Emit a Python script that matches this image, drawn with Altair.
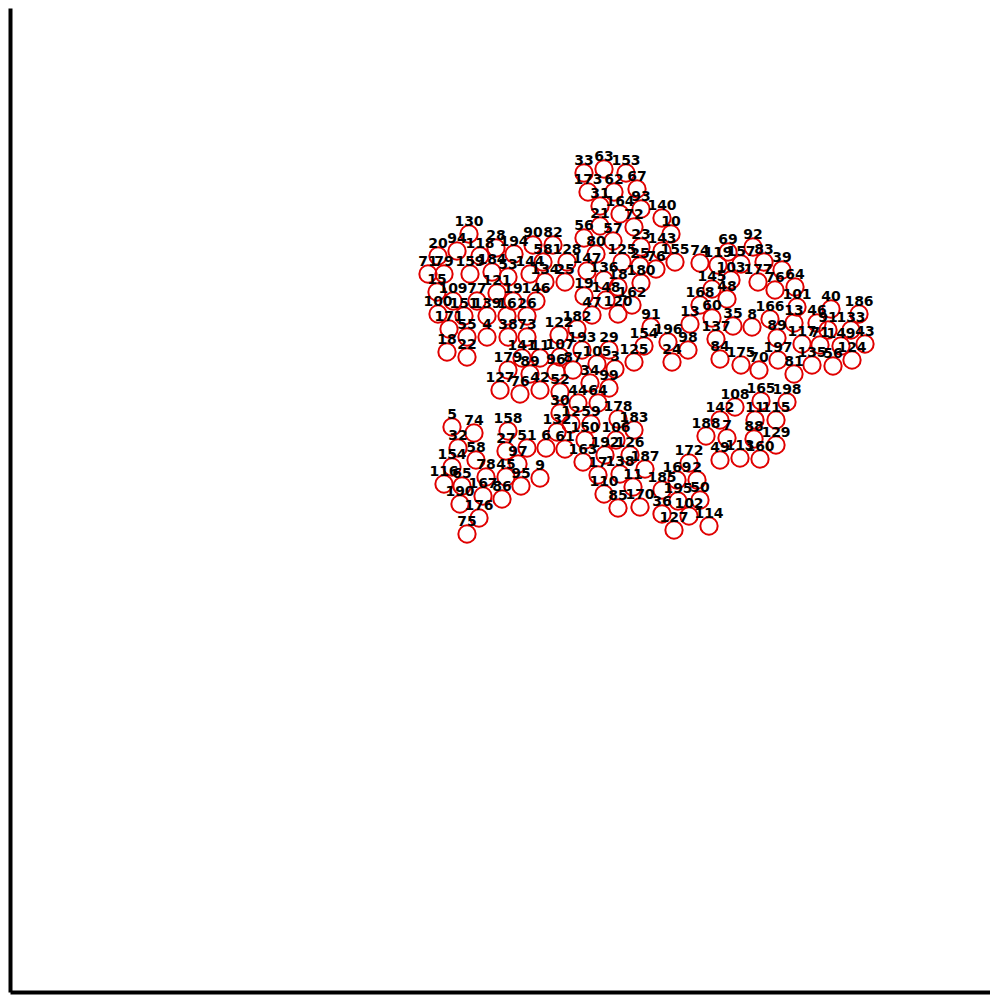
import altair as alt
import pandas as pd

labels = ["33","63","153","173","62","67","31","164","93","140",
          "21","72","130","10","56","57","90","82","23","143",
          "28","69","92","20","94","118","194","80","58","128",
          "125","25","155","74","119","157","83","39","71","79",
          "159","184","53","144","147","76","134","25","136","103",
          "177","76","64","15","121","18","180","145","109","77",
          "19","146","19","148","162","48","101","168","100","151",
          "139","16","26","47","120","40","186","171","182","91",
          "13","60","35","8","166","13","46","91","133","55",
          "4","38","73","122","193","29","154","196","98","137",
          "89","117","71","149","43","18","22","141","11","107",
          "105","3","125","24","84","175","70","197","81","135",
          "56","124","179","89","96","87","127","76","42","52",
          "34","99","44","64","30","178","108","165","198","12",
          "59","142","11","115","183","158","5","74","132","150",
          "106","188","7","88","129","27","51","6","61","32",
          "192","126","58","49","113","160","163","154","97","187",
          "172","78","45","17","138","169","2","116","65","95",
          "9","11","185","190","167","86","110","195","50","85",
          "170","36","102","176","127","114","75"]

xs = [574,594,616,578,604,627,590,610,631,652,
      590,624,459,661,574,603,523,543,631,652,
      486,718,743,428,447,470,504,586,533,557,
      612,630,665,690,708,731,754,772,418,434,
      460,482,498,520,577,646,535,555,594,721,
      748,765,785,427,487,608,631,702,443,467,
      503,526,574,596,622,717,787,690,428,454,
      477,497,517,582,608,821,849,439,567,641,
      680,702,723,742,760,784,807,818,841,457,
      477,498,517,549,572,599,634,658,678,706,
      767,792,810,831,855,437,457,512,530,550,
      587,605,624,662,710,731,749,768,784,802,
      823,842,498,520,546,563,490,510,530,550,
      580,599,568,588,550,608,725,751,777,561,
      581,710,745,766,624,498,442,464,547,575,
      606,696,717,744,766,496,517,536,555,448,
      595,620,466,710,730,750,573,442,508,635,
      679,476,496,588,610,667,687,434,452,511,
      530,623,652,450,473,492,594,668,690,608,
      630,652,679,469,664,699,457]

ys = [819,823,819,800,800,803,786,778,783,774,
      766,765,758,758,754,751,747,747,745,741,
      744,740,745,736,741,736,738,738,730,730,
      730,726,730,729,727,728,730,722,718,718,
      718,720,715,718,721,723,710,710,712,712,
      710,702,705,700,699,705,709,703,691,691,
      691,691,696,692,687,693,685,687,678,676,
      676,676,676,677,678,683,678,663,663,665,
      668,674,666,665,673,669,669,662,662,655,
      655,655,655,657,642,642,646,650,642,653,
      654,648,647,646,648,640,635,634,634,635,
      628,623,630,630,633,627,622,632,618,627,
      626,632,622,618,620,622,602,598,602,600,
      609,604,589,589,579,573,585,591,590,568,
      568,572,572,572,562,561,565,559,560,552,
      552,556,554,553,547,541,544,544,543,544,
      537,537,532,532,534,533,530,525,528,523,
      529,515,515,517,518,512,512,508,506,506,
      514,505,502,488,496,493,498,491,492,484,
      485,478,476,474,462,466,458]

df = pd.DataFrame({"label": labels, "x": xs, "y": ys})

xsc = alt.Scale(domain=[0, 980], nice=False, zero=False)
ysc = alt.Scale(domain=[0, 984], nice=False, zero=False)

base = alt.Chart(df).encode(
    x=alt.X("x:Q", scale=xsc, axis=alt.Axis(title=None, labels=False, ticks=False, grid=False,
                                            domainColor="black", domainWidth=4)),
    y=alt.Y("y:Q", scale=ysc, axis=alt.Axis(title=None, labels=False, ticks=False, grid=False,
                                            domainColor="black", domainWidth=4)),
)

circles = base.mark_point(shape="circle", size=300, filled=False, stroke="#e00000",
                          strokeWidth=2, opacity=1)
texts = base.mark_text(dy=-12, fontSize=14, font="DejaVu Sans", fontWeight="bold",
                       color="black").encode(text="label:N")

chart = alt.layer(circles, texts).properties(
    width=980, height=984,
    padding={"left": 2, "top": 0, "right": 0, "bottom": 4},
    autosize=alt.AutoSizeParams(type="none"),
).configure_view(stroke=None)

chart.save("out.html", embed_options={"renderer": "svg", "actions": False})
